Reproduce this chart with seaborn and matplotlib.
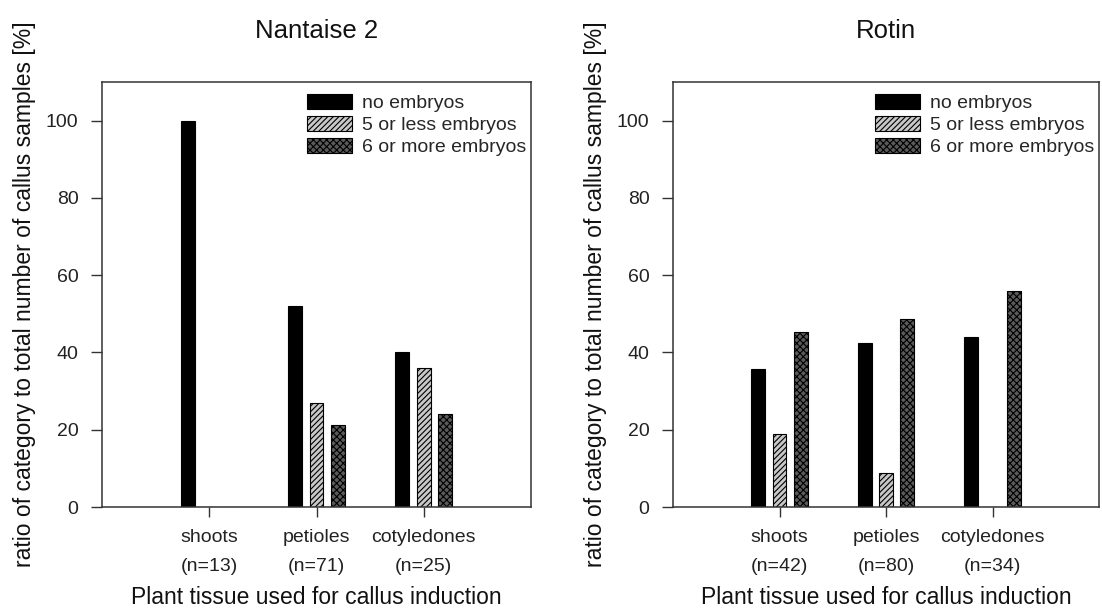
import matplotlib
matplotlib.use("Agg")
import matplotlib.pyplot as plt
import seaborn as sns
import pandas as pd

tissues = ["shoots", "petioles", "cotyledones"]
categories = ["no embryos", "5 or less embryos", "6 or more embryos"]

nantaise_n = [13, 71, 25]
nantaise_none = [100.0, 52.1, 40.0]
nantaise_le5 = [0.0, 26.8, 36.0]
nantaise_ge6 = [0.0, 21.1, 24.0]

rotin_n = [42, 80, 34]
rotin_none = [35.7, 42.5, 44.1]
rotin_le5 = [19.0, 8.75, 0.0]
rotin_ge6 = [45.2, 48.75, 55.9]

colors = ["#000000", "#c8c8c8", "#5a5a5a"]
hatches = ["", "//////", "xxxxx"]

sns.set_theme(style="ticks")
plt.rcParams["font.family"] = ["Liberation Sans", "DejaVu Sans"]
plt.rcParams["hatch.linewidth"] = 0.8

def make_df(none, le5, ge6):
    rows = []
    for t, a, b, c in zip(tissues, none, le5, ge6):
        rows.append((t, categories[0], a))
        rows.append((t, categories[1], b))
        rows.append((t, categories[2], c))
    return pd.DataFrame(rows, columns=["tissue", "category", "value"])

fig = plt.figure(figsize=(11.02, 6.12), dpi=100)
ax1 = fig.add_axes([102 / 1102, 1 - 507 / 612, 429 / 1102, 425 / 612])
ax2 = fig.add_axes([673 / 1102, 1 - 507 / 612, 426 / 1102, 425 / 612])

panels = [
    (ax1, "Nantaise 2", make_df(nantaise_none, nantaise_le5, nantaise_ge6), nantaise_n),
    (ax2, "Rotin", make_df(rotin_none, rotin_le5, rotin_ge6), rotin_n),
]

for ax, title, df, ns in panels:
    sns.barplot(data=df, x="tissue", y="value", hue="category",
                hue_order=categories, order=tissues, palette=colors,
                width=0.6, gap=0.35, edgecolor="black", linewidth=0.8,
                saturation=1, legend=False, ax=ax)
    for cont, h in zip(ax.containers, hatches):
        for p in cont.patches:
            p.set_hatch(h)
    ax.set_xlim(-1, 3)
    ax.set_ylim(0, 110)
    ax.set_yticks([0, 20, 40, 60, 80, 100])
    ax.set_xticks(range(len(tissues)))
    ax.set_xticklabels([f"{t}\n(n={n})" for t, n in zip(tissues, ns)],
                       linespacing=1.9)
    ax.tick_params(axis="both", direction="out", width=1,
                   color="#333333", labelsize=14, labelcolor="#222222")
    ax.tick_params(axis="x", length=7, pad=9)
    ax.tick_params(axis="y", length=8, pad=9)
    for s in ax.spines.values():
        s.set_visible(True)
        s.set_linewidth(1.1)
        s.set_color("#333333")
    ax.set_title(title, fontsize=18.5, pad=32, color="#111111")
    ax.set_xlabel("Plant tissue used for callus induction", fontsize=16.5,
                  labelpad=8, color="#111111")
    ax.set_ylabel("ratio of category to total number of callus samples [%]",
                  fontsize=16.5, labelpad=7, color="#111111")
    ax.legend(handles=list(ax.containers), labels=categories,
              loc="upper right", frameon=False, fontsize=14,
              handlelength=2.3, handleheight=0.8, handletextpad=0.55,
              labelspacing=0.2, borderaxespad=0.0, borderpad=0.0,
              bbox_to_anchor=(0.99, 0.972))

fig.savefig("out.png", dpi=100)
